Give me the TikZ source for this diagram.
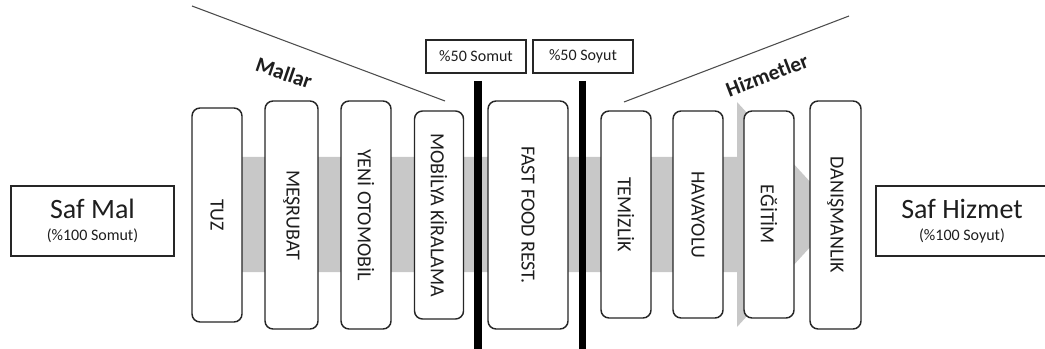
\documentclass[tikz,border=0pt]{standalone}
\usepackage{fontspec}
\setmainfont{Carlito}
\definecolor{bandgray}{RGB}{200,200,200}
\definecolor{edgegray}{RGB}{38,38,38}
\definecolor{inkgray}{RGB}{30,30,30}

\tikzset{every picture/.style={line width=0.75pt}}
\tikzset{
  itembox/.style={draw=edgegray, line width=1.1pt, fill=white, rounded corners=6pt, rotate=-90,
    inner sep=0pt, text=inkgray, font=\fontsize{15}{16}\selectfont},
  tagbox/.style={draw=edgegray, line width=1.1pt, fill=white, inner sep=0pt,
    minimum width=75pt, minimum height=25pt, text=inkgray, font=\fontsize{12}{14}\selectfont},
  purebox/.style={draw=edgegray, line width=1.1pt, fill=white, inner sep=0pt,
    minimum height=52.5pt, align=center, text=inkgray, font=\fontsize{21}{24}\selectfont},
  divider/.style={line width=5.5pt, black},
  slant/.style={draw=black!70, line width=0.8pt},
  grouptitle/.style={text=inkgray, font=\bfseries\fontsize{16}{18}\selectfont},
}

\begin{document}
\begin{tikzpicture}[x=0.75pt,y=0.75pt,yscale=-1,xscale=1]
  \useasboundingbox (0,0) rectangle (1045,349);
  \clip (0,0) rectangle (1045,349);

  %Shape: Arrow band
  \fill[bandgray] (217,157) -- (737,157) -- (737,102) -- (840,214.5) -- (737,327) -- (737,272) -- (217,272) -- cycle ;

  %Shape: end boxes
  \draw (92.5,221) node (safmal) [purebox, minimum width=122.25pt]
    {Saf Mal\\[-7pt]{\fontsize{12}{14}\selectfont (\%100 Somut)}};
  \draw (962,221) node (safhizmet) [purebox, minimum width=129pt]
    {Saf Hizmet\\[-7pt]{\fontsize{12}{14}\selectfont (\%100 Soyut)}};

  %Shape: goods
  \draw (217,215) node (tuz) [itembox, minimum width=160.5pt, minimum height=37.5pt] {TUZ};
  \draw (291.5,215) node (mesrubat) [itembox, minimum width=171pt, minimum height=39.75pt] {MEŞRUBAT};
  \draw (366,215) node (otomobil) [itembox, minimum width=171pt, minimum height=37.5pt] {YENİ OTOMOBİL};
  \draw (439,215) node (mobilya) [itembox, minimum width=156pt, minimum height=36.75pt] {MOBİLYA KİRALAMA};

  %Shape: middle
  \draw (528,215) node (fastfood) [itembox, minimum width=171pt, minimum height=60pt] {FAST FOOD REST.};

  %Shape: services
  \draw (626,214.5) node (temizlik) [itembox, minimum width=155.25pt, minimum height=37.5pt] {TEMİZLİK};
  \draw (698,214.5) node (havayolu) [itembox, minimum width=155.25pt, minimum height=37.5pt] {HAVAYOLU};
  \draw (769,214.5) node (egitim) [itembox, minimum width=155.25pt, minimum height=37.5pt] {EĞİTİM};
  \draw (835.5,215) node (danismanlik) [itembox, minimum width=171pt, minimum height=38.25pt] {DANIŞMANLIK};

  %Straight Lines: dividers
  \draw (476,56.5) node (somut) [tagbox] {\%50 Somut};
  \draw (583,56.5) node (soyut) [tagbox] {\%50 Soyut};
  \coordinate (divA) at (478,81);
  \coordinate (divB) at (582.5,81);
  \draw[divider] (divA) -- (478,352) ;
  \draw[divider] (divB) -- (582.5,352) ;

  %Straight Lines: group edges
  \coordinate (mallA) at (192,6);
  \coordinate (mallB) at (445,101);
  \coordinate (hizA) at (624,102);
  \coordinate (hizB) at (849,16);
  \draw[slant] (mallA) -- (mallB) ;
  \draw[slant] (hizA) -- (hizB) ;

  % Text Node
  \draw (284,73) node (mallar) [grouptitle, rotate=-19] {Mallar};
  % Text Node
  \draw (767,75) node (hizmetler) [grouptitle, rotate=21] {Hizmetler};

\end{tikzpicture}
\end{document}
